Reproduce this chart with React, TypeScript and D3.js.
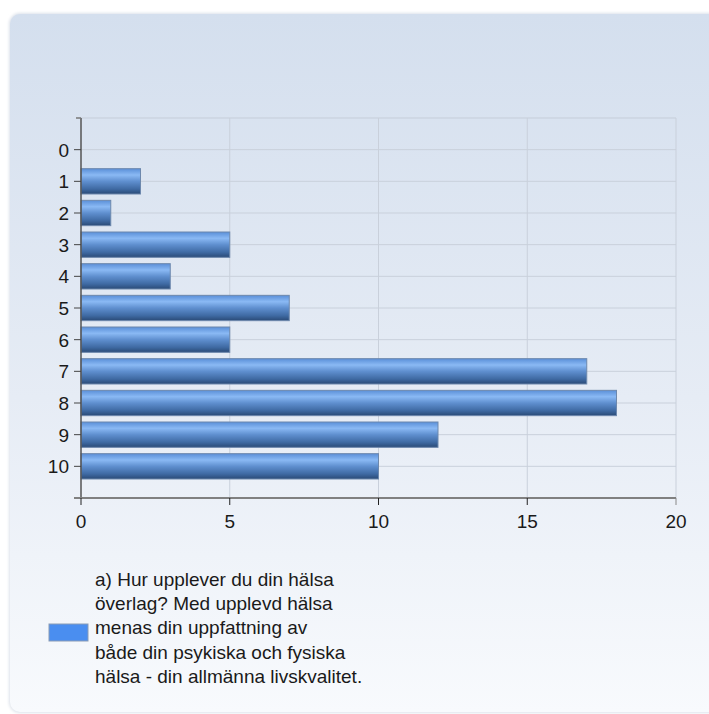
import React from "react";
import * as d3 from "d3";

const categories = ["0", "1", "2", "3", "4", "5", "6", "7", "8", "9", "10"];
const values = [0, 2, 1, 5, 3, 7, 5, 17, 18, 12, 10];
const xTicks = [0, 5, 10, 15, 20];
const legendLines = [
  "a) Hur upplever du din hälsa",
  "överlag? Med upplevd hälsa",
  "menas din uppfattning av",
  "både din psykiska och fysiska",
  "hälsa - din allmänna livskvalitet.",
];

export default function App() {
  const W = 709, H = 714;
  const left = 81, right = 676, top = 118, bottom = 498;
  const x = d3.scaleLinear().domain([0, 20]).range([left, right]);
  const y = d3.scaleLinear().domain([-1, categories.length]).range([top, bottom]);
  const step = y(1) - y(0);
  const barH = step * 0.8;
  const font = "'Liberation Sans', Arial, sans-serif";
  const fs = 19;

  return (
    <svg width={W} height={H} style={{ position: "absolute", left: 0, top: 0, display: "block" }}>
      <defs>
        <linearGradient id="bg" x1="0" y1="0" x2="0" y2="1">
          <stop offset="0" stopColor="#d4dfee" />
          <stop offset="0.55" stopColor="#e6ecf5" />
          <stop offset="1" stopColor="#f8fafd" />
        </linearGradient>
        <linearGradient id="bar" x1="0" y1="0" x2="0" y2="1">
          <stop offset="0" stopColor="#5a8fd8" />
          <stop offset="0.25" stopColor="#8ab9f4" />
          <stop offset="0.5" stopColor="#5f8fcf" />
          <stop offset="0.8" stopColor="#3f6aa3" />
          <stop offset="1" stopColor="#2a4a76" />
        </linearGradient>
        <filter id="sh" x="-5%" y="-5%" width="110%" height="110%">
          <feGaussianBlur stdDeviation="1.5" />
        </filter>
      </defs>
      <rect x={0} y={0} width={W} height={H} fill="#ffffff" />
      <rect x={9} y={13} width={720} height={700} rx={11} fill="#dde2ea" filter="url(#sh)" />
      <rect x={10} y={14} width={720} height={698} rx={10} fill="url(#bg)" />

      {/* plot frame & grid */}
      <line x1={left} x2={right} y1={top} y2={top} stroke="#c5cdd9" strokeWidth={1} />
      {xTicks.slice(1).map((t) => (
        <line key={"vg" + t} x1={x(t)} x2={x(t)} y1={top} y2={bottom} stroke="#c9d0db" strokeWidth={1} />
      ))}
      {categories.map((c, i) => (
        <line key={"hg" + c} x1={left} x2={right} y1={y(i)} y2={y(i)} stroke="#c9d0db" strokeWidth={1} />
      ))}

      {/* bars */}
      {values.map((v, i) =>
        v > 0 ? (
          <rect
            key={"b" + i}
            x={x(0)}
            y={y(i) - barH / 2}
            width={x(v) - x(0)}
            height={barH}
            fill="url(#bar)"
            stroke="#6d88ad"
            strokeWidth={1}
          />
        ) : null
      )}

      {/* y axis */}
      <line x1={left} x2={left} y1={top} y2={bottom} stroke="#555" strokeWidth={1.5} />
      <line x1={left - 5} x2={left} y1={top} y2={top} stroke="#777" strokeWidth={1.5} />
      {categories.map((c, i) => (
        <g key={"yt" + c}>
          <line x1={left - 7} x2={left} y1={y(i)} y2={y(i)} stroke="#444" strokeWidth={1} />
          <text x={left - 12} y={y(i)} dy="0.36em" textAnchor="end" fontSize={fs} fontFamily={font} fill="#1a1a1a">
            {c}
          </text>
        </g>
      ))}

      {/* x axis */}
      <line x1={left - 7} x2={right} y1={bottom} y2={bottom} stroke="#808080" strokeWidth={2} />
      {xTicks.map((t) => (
        <g key={"xt" + t}>
          <line x1={x(t)} x2={x(t)} y1={bottom} y2={bottom + 7} stroke={t === 20 ? "#888" : "#222"} strokeWidth={1} />
          <text x={x(t)} y={bottom + 30} textAnchor="middle" fontSize={fs} fontFamily={font} fill="#1a1a1a">
            {t}
          </text>
        </g>
      ))}

      {/* legend */}
      <rect x={49} y={624} width={39} height={17} fill="#4a8ef0" stroke="#8a9bb5" strokeWidth={1} />
      {legendLines.map((l, i) => (
        <text key={"l" + i} x={95} y={586 + i * 24.2} fontSize={fs} fontFamily={font} fill="#1a1a1a">
          {l}
        </text>
      ))}
    </svg>
  );
}
